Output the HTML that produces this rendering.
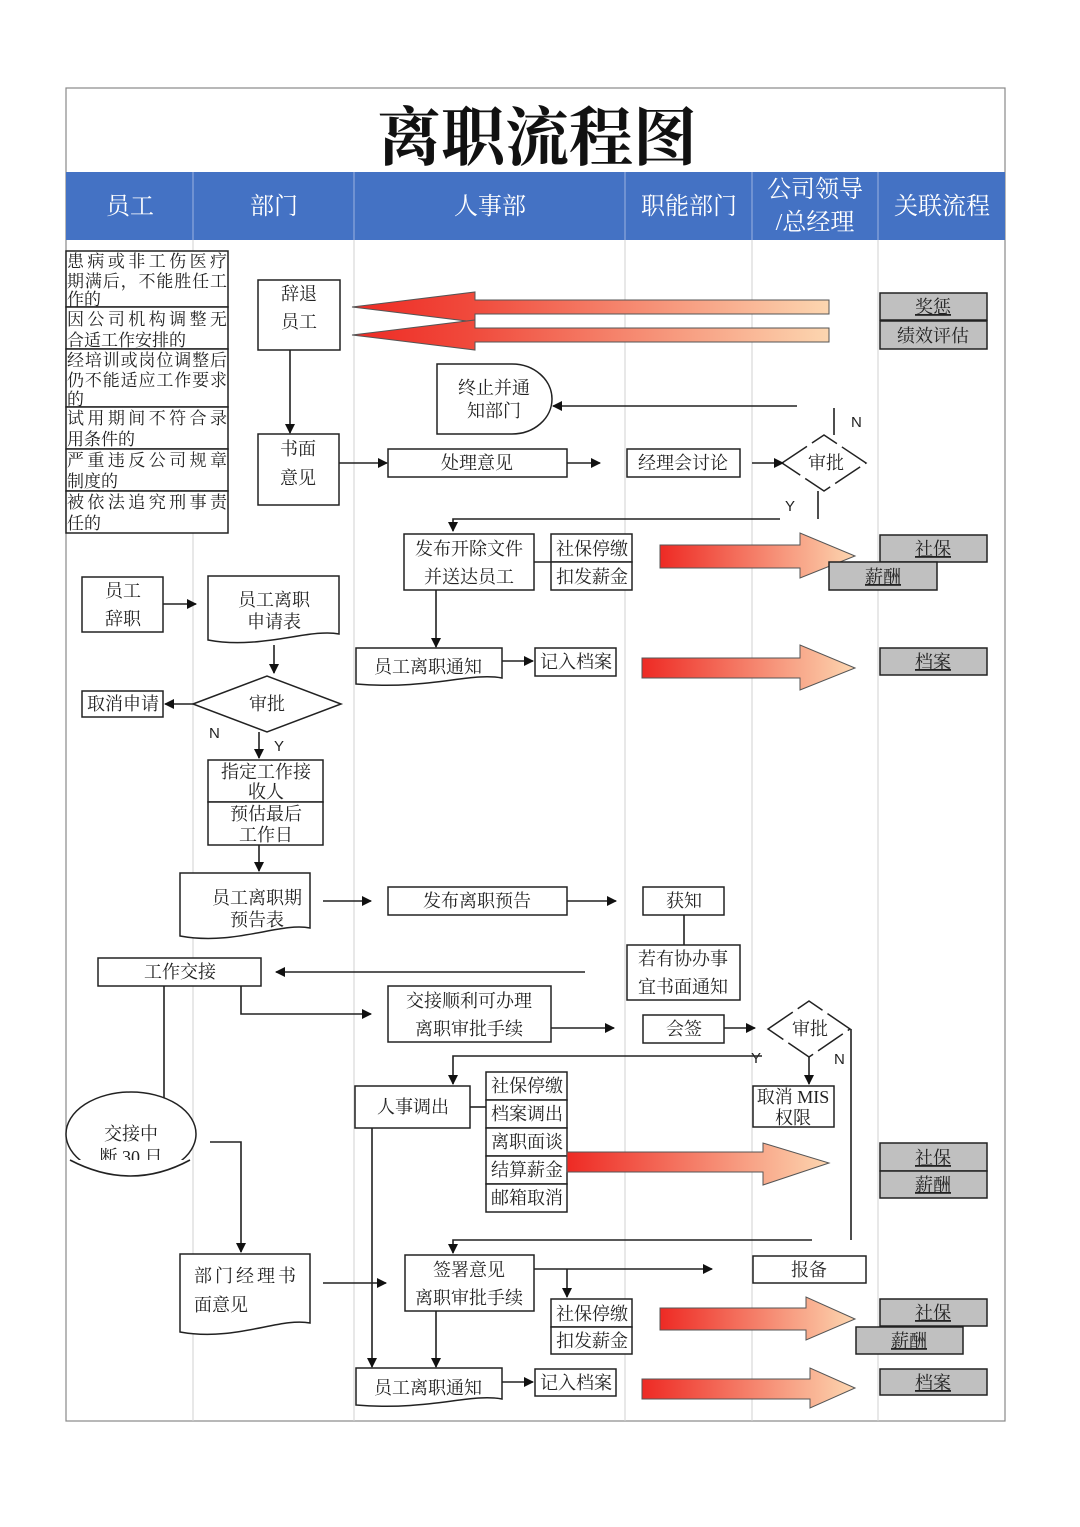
<!DOCTYPE html>
<html><head><meta charset="utf-8"><style>
html,body{margin:0;padding:0;background:#fff;}
svg{display:block;}
text{font-family:"Liberation Serif","Noto Serif CJK SC",serif;fill:#222;}
.h{fill:#fff;font-size:24px;font-family:"Liberation Serif","Noto Serif CJK SC",serif;}
.t{font-size:18px;text-anchor:middle;}
.s{font-size:17px;}
.b{fill:#fff;stroke:#222;stroke-width:1.5;}
.g{fill:#c0c0c0;stroke:#222;stroke-width:1.5;}
.u{text-decoration:underline;}
.l{stroke:#222;stroke-width:1.6;fill:none;}
.y{font-family:"Liberation Sans",sans-serif;font-size:15px;}
</style></head><body>
<svg width="1080" height="1527" viewBox="0 0 1080 1527" xmlns="http://www.w3.org/2000/svg">
<defs>
<linearGradient id="gr" x1="0" x2="1" y1="0" y2="0"><stop offset="0" stop-color="#ee2a24"/><stop offset="1" stop-color="#fcd6b0"/></linearGradient>
<linearGradient id="gl" x1="0" x2="1" y1="0" y2="0"><stop offset="0" stop-color="#ee2a24"/><stop offset="0.25" stop-color="#f04a3c"/><stop offset="1" stop-color="#fcd6b0"/></linearGradient>
<marker id="a" markerWidth="10" markerHeight="10" refX="9" refY="5" orient="auto" markerUnits="userSpaceOnUse"><path d="M0,0 L10,5 L0,10 Z" fill="#111"/></marker>
</defs>
<rect x="66" y="88" width="939" height="1333" fill="#fff" stroke="#888" stroke-width="1.2"/>
<text x="537" y="160" font-size="64" font-weight="bold" text-anchor="middle" style="fill:#111">离职流程图</text>
<rect x="66" y="172" width="939" height="68" fill="#4472c4"/>
<g stroke="#d0d0d0" stroke-width="1">
<line x1="193" y1="172" x2="193" y2="1421"/><line x1="354" y1="172" x2="354" y2="1421"/>
<line x1="625" y1="172" x2="625" y2="1421"/><line x1="752" y1="172" x2="752" y2="1421"/>
<line x1="878" y1="172" x2="878" y2="1421"/></g>
<g stroke="#9db3e0" stroke-width="1"><line x1="193" y1="172" x2="193" y2="240"/><line x1="354" y1="172" x2="354" y2="240"/><line x1="625" y1="172" x2="625" y2="240"/><line x1="752" y1="172" x2="752" y2="240"/><line x1="878" y1="172" x2="878" y2="240"/></g>
<text class="h" x="130" y="214" text-anchor="middle">员工</text>
<text class="h" x="274" y="214" text-anchor="middle">部门</text>
<text class="h" x="490" y="214" text-anchor="middle">人事部</text>
<text class="h" x="689" y="214" text-anchor="middle">职能部门</text>
<text class="h" x="815" y="197" text-anchor="middle">公司领导</text>
<text class="h" x="815" y="230" text-anchor="middle">/总经理</text>
<text class="h" x="942" y="214" text-anchor="middle">关联流程</text>

<!-- left list -->
<g class="s">
<rect class="b" x="66" y="251" width="162" height="56"/><rect class="b" x="66" y="307" width="162" height="42"/>
<rect class="b" x="66" y="349" width="162" height="58"/><rect class="b" x="66" y="407" width="162" height="42"/>
<rect class="b" x="66" y="449" width="162" height="42"/><rect class="b" x="66" y="491" width="162" height="42"/>
<text x="67" y="267" textLength="160">患病或非工伤医疗</text><text x="67" y="287" textLength="160">期满后，不能胜任工</text><text x="67" y="305">作的</text>
<text x="67" y="325" textLength="160">因公司机构调整无</text><text x="67" y="346">合适工作安排的</text>
<text x="67" y="366" textLength="160">经培训或岗位调整后</text><text x="67" y="386" textLength="160">仍不能适应工作要求</text><text x="67" y="405">的</text>
<text x="67" y="424" textLength="160">试用期间不符合录</text><text x="67" y="445">用条件的</text>
<text x="67" y="466" textLength="160">严重违反公司规章</text><text x="67" y="487">制度的</text>
<text x="67" y="508" textLength="160">被依法追究刑事责</text><text x="67" y="529">任的</text>
</g>
<rect class="b" x="258" y="280" width="82" height="70"/><text class="t" x="299" y="300">辞退</text><text class="t" x="299" y="328">员工</text>
<line class="l" x1="290" y1="350" x2="290" y2="433" marker-end="url(#a)"/>
<rect class="b" x="258" y="434" width="81" height="71"/><text class="t" x="298" y="455">书面</text><text class="t" x="298" y="484">意见</text>
<!-- left arrows -->
<polygon points="829,300 475,300 475,292 352,307 475,322 475,314 829,314" fill="url(#gl)" stroke="#555" stroke-width="1"/>
<polygon points="829,328 475,328 475,320 352,335 475,350 475,342 829,342" fill="url(#gl)" stroke="#555" stroke-width="1"/>
<rect class="g" x="880" y="293" width="107" height="27"/><text class="t u" x="933" y="313">奖惩</text>
<rect class="g" x="880" y="321" width="107" height="28"/><text class="t" x="933" y="342">绩效评估</text>
<path class="b" d="M437,364 H512 A40,35 0 0 1 512,434 H437 Z"/>
<text class="t" x="494" y="394">终止并通</text><text class="t" x="494" y="417">知部门</text>
<line class="l" x1="797" y1="406" x2="553" y2="406" marker-end="url(#a)"/>
<line class="l" x1="834" y1="408" x2="834" y2="435"/><text class="y" x="851" y="427">N</text>
<polygon class="b" points="782,463 824,435 866,463 824,491" stroke-dasharray="30 6"/><text class="t" x="826" y="469">审批</text>
<line class="l" x1="339" y1="463" x2="387" y2="463" marker-end="url(#a)"/>
<rect class="b" x="388" y="449" width="179" height="28"/><text class="t" x="477" y="469">处理意见</text>
<line class="l" x1="567" y1="463" x2="600" y2="463" marker-end="url(#a)"/>
<rect class="b" x="627" y="449" width="113" height="28"/><text class="t" x="683" y="469">经理会讨论</text>
<line class="l" x1="752" y1="463" x2="783" y2="463" marker-end="url(#a)"/>
<line class="l" x1="818" y1="491" x2="818" y2="519"/><text class="y" x="785" y="511">Y</text>
<polyline class="l" points="780,519 453,519 453,531" marker-end="url(#a)"/>
<rect class="b" x="404" y="534" width="130" height="56"/><text class="t" x="469" y="555">发布开除文件</text><text class="t" x="469" y="583">并送达员工</text>
<line class="l" x1="534" y1="562" x2="551" y2="562"/>
<rect class="b" x="551" y="534" width="81" height="28"/><rect class="b" x="551" y="562" width="81" height="28"/>
<text class="t" x="592" y="555">社保停缴</text><text class="t" x="592" y="583">扣发薪金</text>
<polygon points="660,545 800,545 800,533 855,556 800,578 800,568 660,568" fill="url(#gr)" stroke="#555" stroke-width="1"/>
<rect class="g" x="880" y="535" width="107" height="27"/><text class="t u" x="933" y="555">社保</text>
<rect class="g" x="829" y="562" width="108" height="28"/><text class="t u" x="883" y="583">薪酬</text>
<line class="l" x1="436" y1="590" x2="436" y2="647" marker-end="url(#a)"/>
<path class="b" d="M356,648 H502 V678 C470,672 430,690 356,684 Z"/><text class="t" x="428" y="673" font-size="16">员工离职通知</text>
<line class="l" x1="502" y1="661" x2="533" y2="661" marker-end="url(#a)"/>
<rect class="b" x="535" y="648" width="81" height="28"/><text class="t" x="576" y="668">记入档案</text>
<polygon points="642,658 800,658 800,645 855,668 800,690 800,678 642,678" fill="url(#gr)" stroke="#555" stroke-width="1"/>
<rect class="g" x="880" y="648" width="107" height="27"/><text class="t u" x="933" y="668">档案</text>

<rect class="b" x="82" y="577" width="81" height="55"/><text class="t" x="123" y="597">员工</text><text class="t" x="123" y="625">辞职</text>
<line class="l" x1="163" y1="604" x2="196" y2="604" marker-end="url(#a)"/>
<path class="b" d="M208,576 H339 V634 C310,628 260,650 208,640 Z"/><text class="t" x="274" y="606">员工离职</text><text class="t" x="274" y="628">申请表</text>
<line class="l" x1="274" y1="645" x2="274" y2="673" marker-end="url(#a)"/>
<polygon class="b" points="193,704 267,676 341,704 267,732"/><text class="t" x="267" y="710">审批</text>
<line class="l" x1="193" y1="704" x2="165" y2="704" marker-end="url(#a)"/>
<rect class="b" x="82" y="691" width="81" height="26"/><text class="t" x="123" y="710">取消申请</text>
<text class="y" x="209" y="738">N</text>
<line class="l" x1="259" y1="732" x2="259" y2="758" marker-end="url(#a)"/><text class="y" x="274" y="751">Y</text>
<rect class="b" x="208" y="760" width="115" height="42"/><rect class="b" x="208" y="802" width="115" height="43"/>
<text class="t" x="266" y="778">指定工作接</text><text class="t" x="266" y="798">收人</text>
<text class="t" x="266" y="820">预估最后</text><text class="t" x="266" y="841">工作日</text>
<line class="l" x1="259" y1="845" x2="259" y2="871" marker-end="url(#a)"/>
<path class="b" d="M180,873 H310 V928 C280,922 235,946 180,936 Z"/><text class="t" x="257" y="904">员工离职期</text><text class="t" x="257" y="926">预告表</text>
<line class="l" x1="323" y1="901" x2="371" y2="901" marker-end="url(#a)"/>
<rect class="b" x="388" y="887" width="179" height="28"/><text class="t" x="477" y="907">发布离职预告</text>
<line class="l" x1="567" y1="901" x2="616" y2="901" marker-end="url(#a)"/>
<rect class="b" x="643" y="887" width="81" height="28"/><text class="t" x="684" y="907">获知</text>
<line class="l" x1="684" y1="915" x2="684" y2="945"/>
<rect class="b" x="627" y="945" width="113" height="55"/><text class="t" x="683" y="965">若有协办事</text><text class="t" x="683" y="993">宜书面通知</text>
<line class="l" x1="585" y1="972" x2="276" y2="972" marker-end="url(#a)"/>
<rect class="b" x="98" y="958" width="163" height="28"/><text class="t" x="180" y="978">工作交接</text>
<polyline class="l" points="241,986 241,1014 371,1014" marker-end="url(#a)"/>
<rect class="b" x="388" y="986" width="163" height="56"/><text class="t" x="469" y="1007">交接顺利可办理</text><text class="t" x="469" y="1035">离职审批手续</text>
<line class="l" x1="551" y1="1028" x2="614" y2="1028" marker-end="url(#a)"/>
<rect class="b" x="643" y="1015" width="81" height="28"/><text class="t" x="684" y="1035">会签</text>
<line class="l" x1="724" y1="1028" x2="755" y2="1028" marker-end="url(#a)"/>
<polygon class="b" points="768,1029 809,1001 850,1029 809,1057" stroke-dasharray="30 6"/><text class="t" x="810" y="1035">审批</text>
<polyline class="l" points="851,1029 851,1240"/><text class="y" x="834" y="1064">N</text>
<polyline class="l" points="762,1056 453,1056 453,1084" marker-end="url(#a)"/><text class="y" x="751" y="1063">Y</text>
<line class="l" x1="809" y1="1057" x2="809" y2="1084" marker-end="url(#a)"/>
<rect class="b" x="753" y="1086" width="81" height="41"/><text class="t" x="793" y="1103">取消 MIS</text><text class="t" x="793" y="1124">权限</text>
<line class="l" x1="164" y1="986" x2="164" y2="1099"/>
<ellipse class="b" cx="131" cy="1134" rx="65" ry="42"/><text class="t" x="131" y="1140">交接中</text><text class="t" x="131" y="1163" font-size="15">断 30 日</text>
<rect x="70" y="1160" width="120" height="20" fill="#fff"/><path d="M70,1160 Q131,1192 190,1160" class="l" stroke-width="1.5"/>
<polyline class="l" points="210,1142 241,1142 241,1252" marker-end="url(#a)"/>
<rect class="b" x="355" y="1086" width="115" height="42"/><text class="t" x="413" y="1113">人事调出</text>
<line class="l" x1="470" y1="1107" x2="486" y2="1107"/>
<g><rect class="b" x="486" y="1072" width="81" height="28"/><rect class="b" x="486" y="1100" width="81" height="28"/><rect class="b" x="486" y="1128" width="81" height="28"/><rect class="b" x="486" y="1156" width="81" height="28"/><rect class="b" x="486" y="1184" width="81" height="28"/>
<text class="t" x="527" y="1092">社保停缴</text><text class="t" x="527" y="1120">档案调出</text><text class="t" x="527" y="1148">离职面谈</text><text class="t" x="527" y="1176">结算薪金</text><text class="t" x="527" y="1204">邮箱取消</text></g>
<polygon points="567,1152 763,1152 763,1143 829,1163 763,1185 763,1172 567,1172" fill="url(#gr)" stroke="#555" stroke-width="1"/>
<rect class="g" x="880" y="1143" width="107" height="28"/><text class="t u" x="933" y="1164">社保</text>
<rect class="g" x="880" y="1171" width="107" height="27"/><text class="t u" x="933" y="1191">薪酬</text>
<line class="l" x1="372" y1="1128" x2="372" y2="1367" marker-end="url(#a)"/>
<polyline class="l" points="812,1240 453,1240 453,1253" marker-end="url(#a)"/>
<path class="b" d="M180,1254 H310 V1323 C280,1317 235,1342 180,1332 Z"/><text class="t" x="245" y="1282" textLength="102">部门经理书</text><text x="194" y="1311" style="font-size:18px">面意见</text>
<line class="l" x1="323" y1="1283" x2="386" y2="1283" marker-end="url(#a)"/>
<rect class="b" x="405" y="1255" width="129" height="56"/><text class="t" x="469" y="1276">签署意见</text><text class="t" x="469" y="1304">离职审批手续</text>
<line class="l" x1="534" y1="1269" x2="712" y2="1269" marker-end="url(#a)"/>
<line class="l" x1="567" y1="1269" x2="567" y2="1297" marker-end="url(#a)"/>
<rect class="b" x="753" y="1256" width="113" height="27"/><text class="t" x="809" y="1276">报备</text>
<rect class="b" x="551" y="1299" width="81" height="28"/><rect class="b" x="551" y="1327" width="81" height="27"/>
<text class="t" x="592" y="1320">社保停缴</text><text class="t" x="592" y="1347">扣发薪金</text>
<polygon points="660,1308 806,1308 806,1297 855,1319 806,1340 806,1330 660,1330" fill="url(#gr)" stroke="#555" stroke-width="1"/>
<rect class="g" x="880" y="1299" width="107" height="27"/><text class="t u" x="933" y="1319">社保</text>
<rect class="g" x="856" y="1327" width="107" height="27"/><text class="t u" x="909" y="1347">薪酬</text>
<line class="l" x1="436" y1="1311" x2="436" y2="1367" marker-end="url(#a)"/>
<path class="b" d="M356,1368 H502 V1399 C470,1393 430,1411 356,1405 Z"/><text class="t" x="428" y="1394" font-size="16">员工离职通知</text>
<line class="l" x1="502" y1="1382" x2="533" y2="1382" marker-end="url(#a)"/>
<rect class="b" x="535" y="1369" width="81" height="27"/><text class="t" x="576" y="1389">记入档案</text>
<polygon points="642,1379 810,1379 810,1368 855,1388 810,1408 810,1399 642,1399" fill="url(#gr)" stroke="#555" stroke-width="1"/>
<rect class="g" x="880" y="1369" width="107" height="26"/><text class="t u" x="933" y="1389">档案</text>
</svg>
</body></html>
